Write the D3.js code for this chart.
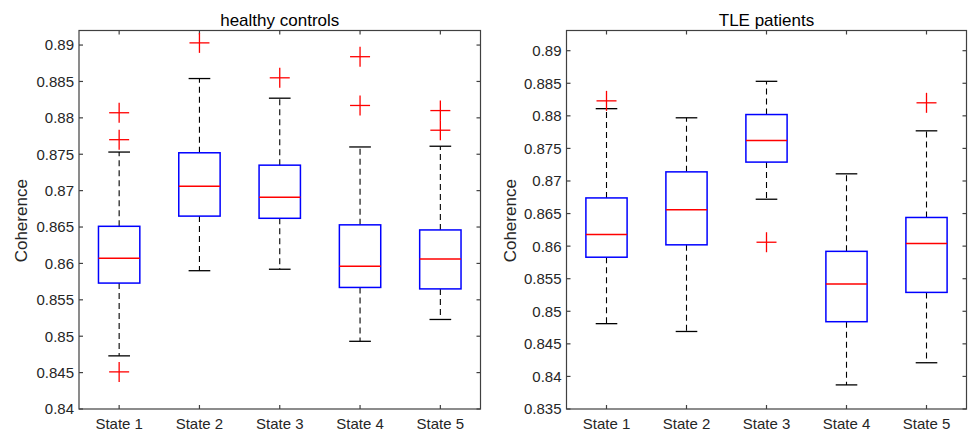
<!DOCTYPE html>
<html>
<head>
<meta charset="utf-8">
<script src="https://cdn.jsdelivr.net/npm/d3@7"></script>
<style>
  html, body { margin: 0; padding: 0; background: #fff; }
  svg { display: block; }
  text { font-family: "Liberation Sans", Arial, sans-serif; }
</style>
</head>
<body>
<svg id="chart" width="973" height="431"></svg>
<script>
// ---- Data ----
const categories = ["State 1", "State 2", "State 3", "State 4", "State 5"];

// healthy controls
const hcLowerWhisker = [0.8473, 0.8590, 0.8592, 0.8493, 0.8523];
const hcQ1           = [0.8573, 0.8665, 0.8662, 0.8567, 0.8565];
const hcMedian       = [0.8607, 0.8706, 0.8691, 0.8596, 0.8606];
const hcQ3           = [0.8651, 0.8752, 0.8735, 0.8653, 0.8646];
const hcUpperWhisker = [0.8753, 0.8854, 0.8827, 0.8760, 0.8761];
const hcOutliers     = [[0.8807, 0.8770, 0.8451], [0.8903], [0.8855], [0.8884, 0.8817], [0.8810, 0.8783]];
const hcTicks        = [0.84, 0.845, 0.85, 0.855, 0.86, 0.865, 0.87, 0.875, 0.88, 0.885, 0.89];

// TLE patients
const tleLowerWhisker = [0.8481, 0.8469, 0.8672, 0.8387, 0.8421];
const tleQ1           = [0.8583, 0.8602, 0.8729, 0.8484, 0.8529];
const tleMedian       = [0.8618, 0.8656, 0.8762, 0.8542, 0.8604];
const tleQ3           = [0.8674, 0.8714, 0.8802, 0.8592, 0.8644];
const tleUpperWhisker = [0.8811, 0.8797, 0.8853, 0.8711, 0.8777];
const tleOutliers     = [[0.8823], [], [0.8606], [], [0.8820]];
const tleTicks        = [0.835, 0.84, 0.845, 0.85, 0.855, 0.86, 0.865, 0.87, 0.875, 0.88, 0.885, 0.89];

const titles = ["healthy controls", "TLE patients"];
const yLabel = "Coherence";

// ---- Drawing ----
const svg = d3.select("#chart");
const frameColor = "#404040";
const textColor = "#262626";

function drawPanel(cfg) {
  const { x0, x1, y0, y1, yDomain, ticks, lw, q1, med, q3, uw, outl, title, ylabX } = cfg;
  const x = d3.scaleLinear().domain([0.5, categories.length + 0.5]).range([x0, x1]);
  const y = d3.scaleLinear().domain(yDomain).range([y1, y0]);
  const g = svg.append("g");
  const tickLen = 4;

  // frame
  g.append("rect").attr("x", x0).attr("y", y0).attr("width", x1 - x0).attr("height", y1 - y0)
    .attr("fill", "none").attr("stroke", frameColor).attr("stroke-width", 1.2);

  // y ticks (left & right, inward) + labels
  ticks.forEach(t => {
    const yy = y(t);
    g.append("line").attr("x1", x0).attr("x2", x0 + tickLen).attr("y1", yy).attr("y2", yy)
      .attr("stroke", frameColor).attr("stroke-width", 1.2);
    g.append("line").attr("x1", x1).attr("x2", x1 - tickLen).attr("y1", yy).attr("y2", yy)
      .attr("stroke", frameColor).attr("stroke-width", 1.2);
    g.append("text").attr("x", x0 - 5).attr("y", yy).attr("dy", "0.36em")
      .attr("text-anchor", "end").attr("font-size", 15).attr("fill", textColor)
      .text(d3.format("")(t));
  });

  // x ticks (bottom & top, inward) + labels
  categories.forEach((c, i) => {
    const xx = x(i + 1);
    g.append("line").attr("x1", xx).attr("x2", xx).attr("y1", y1).attr("y2", y1 - tickLen)
      .attr("stroke", frameColor).attr("stroke-width", 1.2);
    g.append("line").attr("x1", xx).attr("x2", xx).attr("y1", y0).attr("y2", y0 + tickLen)
      .attr("stroke", frameColor).attr("stroke-width", 1.2);
    g.append("text").attr("x", xx).attr("y", 428.5)
      .attr("text-anchor", "middle").attr("font-size", 15).attr("fill", textColor).text(c);
  });

  // title
  g.append("text").attr("x", (x0 + x1) / 2).attr("y", 25.5).attr("text-anchor", "middle")
    .attr("font-size", 17).attr("fill", "#000").text(title);

  // y label
  g.append("text").attr("transform", `translate(${ylabX},${(y0 + y1) / 2 + 1}) rotate(-90)`)
    .attr("text-anchor", "middle").attr("font-size", 17).attr("fill", textColor).text(yLabel);

  const boxW = 0.515, capW = 0.27, plusH = 10;
  const sx = v => x(v) - x(0);

  categories.forEach((c, i) => {
    const cx = x(i + 1);
    // whiskers (dashed)
    g.append("line").attr("x1", cx).attr("x2", cx).attr("y1", y(q3[i])).attr("y2", y(uw[i]))
      .attr("stroke", "#000").attr("stroke-width", 1.1).attr("stroke-dasharray", "6,4");
    g.append("line").attr("x1", cx).attr("x2", cx).attr("y1", y(q1[i])).attr("y2", y(lw[i]))
      .attr("stroke", "#000").attr("stroke-width", 1.1).attr("stroke-dasharray", "6,4");
    // caps
    [uw[i], lw[i]].forEach(v => {
      g.append("line").attr("x1", cx - sx(capW) / 2).attr("x2", cx + sx(capW) / 2)
        .attr("y1", y(v)).attr("y2", y(v)).attr("stroke", "#000").attr("stroke-width", 1.3);
    });
    // box
    g.append("rect").attr("x", cx - sx(boxW) / 2).attr("width", sx(boxW))
      .attr("y", y(q3[i])).attr("height", y(q1[i]) - y(q3[i]))
      .attr("fill", "none").attr("stroke", "#0000ff").attr("stroke-width", 1.5);
    // median
    g.append("line").attr("x1", cx - sx(boxW) / 2).attr("x2", cx + sx(boxW) / 2)
      .attr("y1", y(med[i])).attr("y2", y(med[i])).attr("stroke", "#ff0000").attr("stroke-width", 1.5);
    // outliers
    outl[i].forEach(v => {
      const yy = y(v);
      g.append("line").attr("x1", cx - plusH).attr("x2", cx + plusH).attr("y1", yy).attr("y2", yy)
        .attr("stroke", "#ff0000").attr("stroke-width", 1.3);
      g.append("line").attr("x1", cx).attr("x2", cx).attr("y1", yy - plusH).attr("y2", yy + plusH)
        .attr("stroke", "#ff0000").attr("stroke-width", 1.3);
    });
  });
}

drawPanel({
  x0: 79, x1: 480.5, y0: 30.5, y1: 409, yDomain: [0.84, 0.892], ticks: hcTicks,
  lw: hcLowerWhisker, q1: hcQ1, med: hcMedian, q3: hcQ3, uw: hcUpperWhisker, outl: hcOutliers,
  title: titles[0], ylabX: 27
});
drawPanel({
  x0: 566.5, x1: 966.5, y0: 30.5, y1: 409, yDomain: [0.835, 0.8931], ticks: tleTicks,
  lw: tleLowerWhisker, q1: tleQ1, med: tleMedian, q3: tleQ3, uw: tleUpperWhisker, outl: tleOutliers,
  title: titles[1], ylabX: 516
});
</script>
</body>
</html>
